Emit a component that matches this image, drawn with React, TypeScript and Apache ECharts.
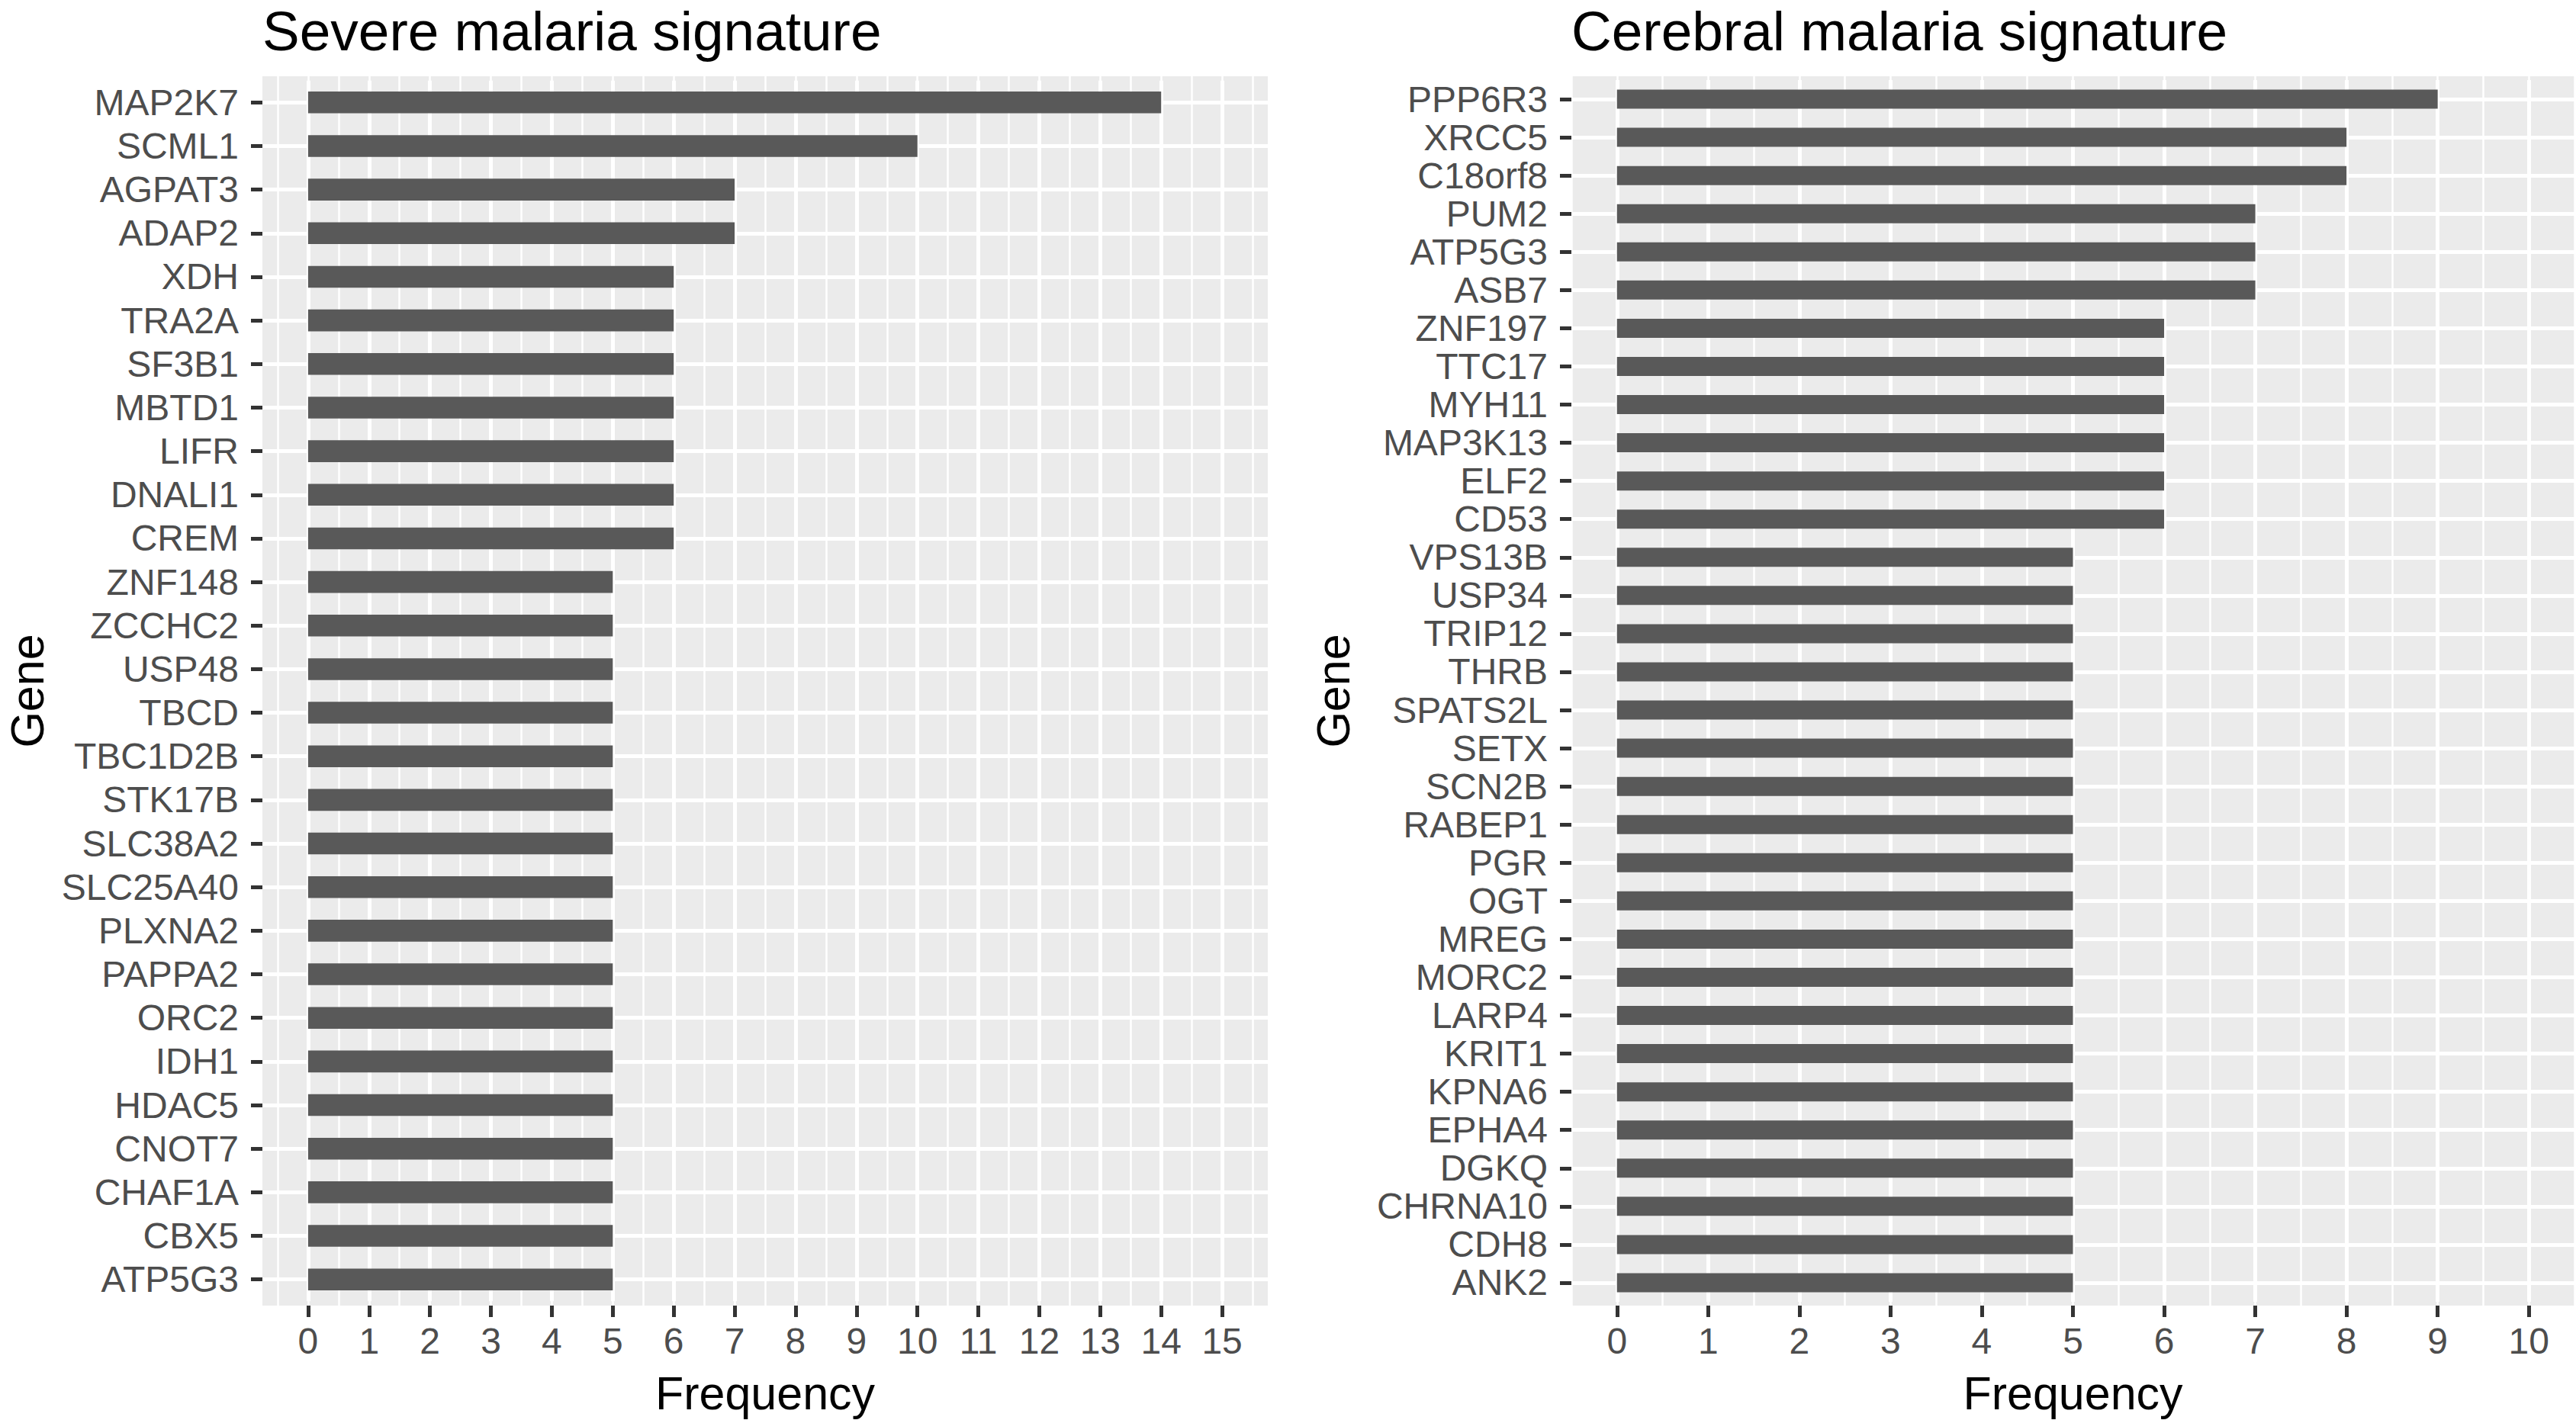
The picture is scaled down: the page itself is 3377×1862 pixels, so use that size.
import React, { useEffect, useRef } from "react";
import * as echarts from "echarts";

const severeGenes = [
  "MAP2K7", "SCML1", "AGPAT3", "ADAP2", "XDH", "TRA2A", "SF3B1", "MBTD1", "LIFR", "DNALI1",
  "CREM", "ZNF148", "ZCCHC2", "USP48", "TBCD", "TBC1D2B", "STK17B", "SLC38A2", "SLC25A40",
  "PLXNA2", "PAPPA2", "ORC2", "IDH1", "HDAC5", "CNOT7", "CHAF1A", "CBX5", "ATP5G3",
];
const severeFreq = [14, 10, 7, 7, 6, 6, 6, 6, 6, 6, 6, 5, 5, 5, 5, 5, 5, 5, 5, 5, 5, 5, 5, 5, 5, 5, 5, 5];

const cerebralGenes = [
  "PPP6R3", "XRCC5", "C18orf8", "PUM2", "ATP5G3", "ASB7", "ZNF197", "TTC17", "MYH11", "MAP3K13",
  "ELF2", "CD53", "VPS13B", "USP34", "TRIP12", "THRB", "SPATS2L", "SETX", "SCN2B", "RABEP1",
  "PGR", "OGT", "MREG", "MORC2", "LARP4", "KRIT1", "KPNA6", "EPHA4", "DGKQ", "CHRNA10", "CDH8", "ANK2",
];
const cerebralFreq = [9, 8, 8, 7, 7, 7, 6, 6, 6, 6, 6, 6, 5, 5, 5, 5, 5, 5, 5, 5, 5, 5, 5, 5, 5, 5, 5, 5, 5, 5, 5, 5];

const severeTitle = "Severe malaria signature";
const cerebralTitle = "Cerebral malaria signature";
const xTitle = "Frequency";
const yTitle = "Gene";

const FONT = "'Liberation Sans', Arial, Helvetica, sans-serif";

type Panel = {
  title: string;
  genes: string[];
  values: number[];
  left: number;
  right: number;
  top: number;
  bottom: number;
  xMin: number;
  xMax: number;
  tickMax: number;
  geneGap: number;
};

function buildPanel(p: Panel, gi: number, si: number) {
  const unit = (p.right - p.left) / (p.xMax - p.xMin);
  const px = (v: number) => p.left + (v - p.xMin) * unit;
  const n = p.genes.length;
  const rowH = (p.bottom - p.top) / (n - 1 + 1.2);
  const panelW = p.right - p.left;
  const panelH = p.bottom - p.top;

  const grids: any[] = [];
  const xAxes: any[] = [];
  const yAxes: any[] = [];
  const hidden = { show: false };

  // 0: panel background
  grids.push({ left: p.left, top: p.top, width: panelW, height: panelH, show: true, backgroundColor: "#EBEBEB", borderWidth: 0, z: -1 });
  xAxes.push({ type: "value", gridIndex: gi, min: 0, max: 1, ...hidden });
  yAxes.push({ type: "value", gridIndex: gi, min: 0, max: 1, ...hidden });

  // 1: minor vertical grid lines
  const mMin = -0.5;
  const mMax = p.tickMax + 0.5;
  grids.push({ left: px(mMin), top: p.top, width: px(mMax) - px(mMin), height: panelH });
  xAxes.push({
    type: "value", gridIndex: gi + 1, min: mMin, max: mMax, interval: 0.5,
    axisLine: { show: false }, axisTick: { show: false }, axisLabel: { show: false },
    splitLine: { show: true, lineStyle: { color: "#FFFFFF", width: 2.5 } },
  });
  yAxes.push({ type: "value", gridIndex: gi + 1, min: 0, max: 1, ...hidden });

  // 2: horizontal major lines + gene labels
  grids.push({ left: p.left, top: p.top + 0.6 * rowH, width: panelW, height: (n - 1) * rowH });
  xAxes.push({ type: "value", gridIndex: gi + 2, min: 0, max: 1, ...hidden });
  yAxes.push({
    type: "category", gridIndex: gi + 2, data: p.genes, inverse: true, boundaryGap: false,
    axisLine: { show: false },
    axisTick: { show: true, length: 15, lineStyle: { color: "#333333", width: 5 } },
    axisLabel: { show: true, interval: 0, fontSize: 48, color: "#4D4D4D", margin: 31, fontFamily: FONT },
    splitLine: { show: true, interval: 0, lineStyle: { color: "#FFFFFF", width: 5 } },
    name: yTitle, nameLocation: "middle", nameRotate: 90, nameGap: p.geneGap,
    nameTextStyle: { fontSize: 61, color: "#000000", fontFamily: FONT },
  });

  // 3: main bars
  const mainTop = p.top + 0.1 * rowH;
  const mainH = n * rowH;
  grids.push({ left: px(0), top: mainTop, width: px(p.tickMax) - px(0), height: mainH });
  xAxes.push({
    type: "value", gridIndex: gi + 3, min: 0, max: p.tickMax, interval: 1,
    offset: p.bottom - (mainTop + mainH),
    axisLine: { show: false },
    axisTick: { show: true, length: 15, lineStyle: { color: "#333333", width: 5 } },
    axisLabel: { show: true, fontSize: 48, color: "#4D4D4D", margin: 22, fontFamily: FONT },
    splitLine: { show: true, lineStyle: { color: "#FFFFFF", width: 5 } },
    name: xTitle, nameLocation: "middle", nameGap: 84,
    nameTextStyle: { fontSize: 61, color: "#000000", fontFamily: FONT },
  });
  yAxes.push({ type: "category", gridIndex: gi + 3, data: p.genes, inverse: true, show: false });

  const series = [{
    type: "bar", xAxisIndex: si, yAxisIndex: si, data: p.values, barWidth: "50%",
    itemStyle: { color: "#595959" }, silent: true,
  }];

  const title = {
    text: p.title, left: p.left, top: 4, padding: 0,
    textStyle: { fontSize: 73, fontWeight: "normal", color: "#000000", fontFamily: FONT },
  };

  return { grids, xAxes, yAxes, series, title };
}

export default function App() {
  const ref = useRef<HTMLDivElement>(null);
  useEffect(() => {
    if (!ref.current) return;
    const chart = echarts.init(ref.current, undefined, { renderer: "svg" });
    const a = buildPanel({
      title: severeTitle, genes: severeGenes, values: severeFreq,
      left: 344, right: 1662, top: 100, bottom: 1712, xMin: -0.75, xMax: 15.75, tickMax: 15, geneGap: 278,
    }, 0, 3);
    const b = buildPanel({
      title: cerebralTitle, genes: cerebralGenes, values: cerebralFreq,
      left: 2060, right: 3375, top: 100, bottom: 1712, xMin: -0.5, xMax: 10.5, tickMax: 10, geneGap: 282,
    }, 4, 7);
    chart.setOption({
      animation: false,
      backgroundColor: "#FFFFFF",
      textStyle: { fontFamily: FONT },
      title: [a.title, b.title],
      grid: [...a.grids, ...b.grids],
      xAxis: [...a.xAxes, ...b.xAxes],
      yAxis: [...a.yAxes, ...b.yAxes],
      series: [...a.series, ...b.series],
    });
    return () => chart.dispose();
  }, []);
  return (
    <div
      ref={ref}
      style={{ position: "fixed", left: 0, top: 0, width: 3377, height: 1862, background: "#fff" }}
    />
  );
}
